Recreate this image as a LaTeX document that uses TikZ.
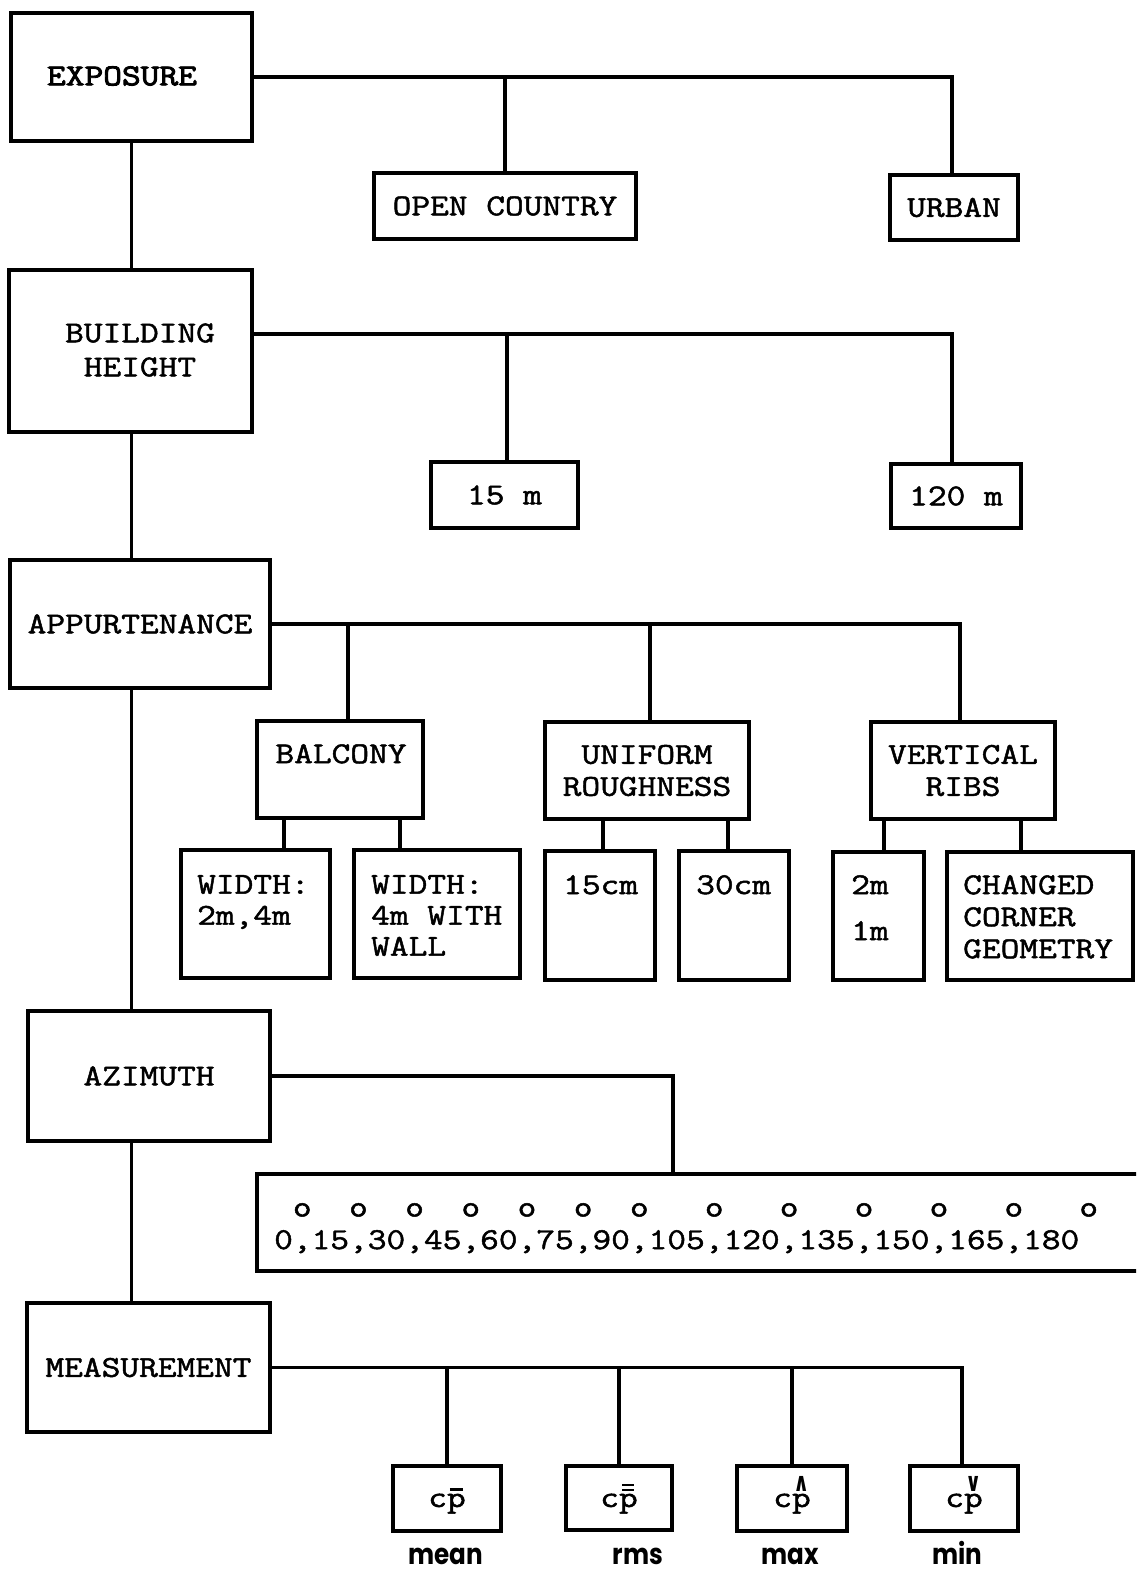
\documentclass[tikz,border=0pt]{standalone}
\usepackage{fix-cm}
\usepackage{fontspec}
\setmainfont{Latin Modern Mono}[FakeStretch=1.2, FakeBold=1.6]
\newfontfamily\heavyfont{Latin Modern Mono}[FakeStretch=1.2, FakeBold=3]
\newfontfamily\lblfont{Poppins}[FakeStretch=0.85]
\newfontfamily\symfont{DejaVu Sans}[FakeStretch=0.75]
\newcommand\fsz{\fontsize{30.3}{32}\selectfont}
\newcommand\gp{\hphantom{0}}
\newsavebox\accbox
\newcommand\acc[2]{\sbox\accbox{#2}\hbox{\vbox{\offinterlineskip\hbox to\wd\accbox{\hss#1\hss}\kern2.5pt\copy\accbox}}}
\newcommand\barmk{\vrule width 13pt height 3pt depth 0pt}
\newcommand\dbarmk{\vbox{\hrule width 12pt height 2.6pt\kern2.4pt\hrule width 12pt height 2.6pt}}
\newcommand\hatmk{{\symfont\bfseries\fontsize{26}{26}\selectfont ∧}}
\newcommand\chkmk{{\symfont\bfseries\fontsize{26}{26}\selectfont ∨}}
\tikzset{
  box/.style={draw, line width=3.2pt, inner sep=0pt, outer sep=0pt},
  conn/.style={line width=3.2pt},
  hd/.style={font=\fsz, align=center, inner sep=0pt},
  tx/.style={font=\fsz, align=center, inner sep=0pt},
  cp/.style={font=\fsz, inner sep=0pt},
  txl/.style={font=\fsz, align=left, inner sep=0pt, anchor=north west},
  lbl/.style={font=\lblfont\bfseries\fontsize{29}{29}\selectfont, inner sep=0pt, anchor=base},
}
\begin{document}
\begin{tikzpicture}[x=1pt,y=-1pt]
\clip (0,0) rectangle (1136,1574);
% main column
\node[box, minimum width=241pt, minimum height=128pt] (expo) at (131.5,77) {};
\node[hd, font=\heavyfont\fsz] (expoT) at (122,76) {EXPOSURE};
\node[box, minimum width=243pt, minimum height=162pt] (bh) at (130.5,351) {};
\node[hd, font=\fontsize{30.3}{34}\selectfont] (bhT) at (140,350) {BUILDING\\HEIGHT};
\node[box, hd, minimum width=260pt, minimum height=128pt] (app) at (140,624) {APPURTENANCE};
\node[box, hd, minimum width=242pt, minimum height=130pt] (azi) at (149,1076) {AZIMUTH};
\node[box, hd, minimum width=243pt, minimum height=129pt] (meas) at (148.5,1367.5) {MEASUREMENT};
\coordinate (sp) at (expo.south);
\draw[conn] (expo.south) -- (sp |- bh.north);
\draw[conn] (sp |- bh.south) -- (sp |- app.north);
\draw[conn] (sp |- app.south) -- (sp |- azi.north);
\draw[conn] (sp |- azi.south) -- (sp |- meas.north);
% exposure
\node[box, tx, minimum width=262pt, minimum height=66pt] (oc) at (505,206) {OPEN COUNTRY};
\node[box, tx, minimum width=128pt, minimum height=65pt] (urban) at (954,207.5) {URBAN};
\draw[conn] (expo.east) -| ([xshift=-2pt]urban.north);
\draw[conn] (oc.north) -- (oc.north |- expo.east);
% building height
\node[box, tx, minimum width=147pt, minimum height=66pt] (m15) at (504.5,495) {15 m};
\node[box, tx, minimum width=130pt, minimum height=64pt] (m120) at (956,496) {120 m};
\coordinate (bhj) at ([yshift=17pt]bh.east);
\coordinate (m15t) at ([xshift=2.5pt]m15.north);
\draw[conn] (bhj) -| ([xshift=-4pt]m120.north);
\draw[conn] (m15t) -- (m15t |- bhj);
% appurtenance
\node[box, minimum width=166pt, minimum height=97pt] (bal) at (340,769.5) {};
\node[tx, anchor=north] (balT) at (341,744) {BALCONY};
\node[box, tx, minimum width=204pt, minimum height=97pt] (uni) at (647,770.5) {UNIFORM\\ROUGHNESS};
\node[box, tx, minimum width=184pt, minimum height=97pt] (rib) at (963,770.5) {VERTICAL\\RIBS};
\coordinate (balt) at ([xshift=8pt]bal.north);
\coordinate (unit) at ([xshift=3pt]uni.north);
\draw[conn] (app.east) -| ([xshift=-3pt]rib.north);
\draw[conn] (balt) -- (balt |- app.east);
\draw[conn] (unit) -- (unit |- app.east);
% children of appurtenance
\node[box, minimum width=149pt, minimum height=128pt] (w1) at (255.5,914) {};
\node[txl, font=\fontsize{30.3}{31}\selectfont] (w1T) at (197,875) {WIDTH:\\2m,4m};
\node[box, minimum width=166pt, minimum height=128pt] (w2) at (437,914) {};
\node[txl, font=\fontsize{30.3}{31}\selectfont] (w2T) at (371,875) {WIDTH:\\4m WITH\\WALL};
\node[box, minimum width=110pt, minimum height=129pt] (c15) at (600,915.5) {};
\node[txl] (c15T) at (563,875) {15cm};
\node[box, minimum width=110pt, minimum height=129pt] (c30) at (734,915.5) {};
\node[txl] (c30T) at (696,875) {30cm};
\node[box, minimum width=91pt, minimum height=128pt] (r21) at (878.5,916) {};
\node[txl, font=\fontsize{30.3}{46}\selectfont] (r21T) at (851,875) {2m\\1m};
\node[box, minimum width=186pt, minimum height=128pt] (ccg) at (1040,916) {};
\node[txl] (ccgT) at (963,875) {CHANGED\\CORNER\\GEOMETRY};
\coordinate (w1t) at ([xshift=28.5pt]w1.north);
\coordinate (w2t) at ([xshift=-37pt]w2.north);
\coordinate (c15t) at ([xshift=3pt]c15.north);
\coordinate (c30t) at ([xshift=-6pt]c30.north);
\coordinate (r21t) at ([xshift=5.5pt]r21.north);
\coordinate (ccgt) at ([xshift=-19pt]ccg.north);
\draw[conn] (w1t) -- (w1t |- bal.south);
\draw[conn] (w2t) -- (w2t |- bal.south);
\draw[conn] (c15t) -- (c15t |- uni.south);
\draw[conn] (c30t) -- (c30t |- uni.south);
\draw[conn] (r21t) -- (r21t |- rib.south);
\draw[conn] (ccgt) -- (ccgt |- rib.south);
% azimuth
\node[box, minimum width=893pt, minimum height=97pt] (azv) at (703.5,1222.5) {};
\node[tx, anchor=base west] (azdeg) at (274,1216.5) {\gp o\gp\gp o\gp\gp o\gp\gp o\gp\gp o\gp\gp o\gp\gp o\gp\gp\gp o\gp\gp\gp o\gp\gp\gp o\gp\gp\gp o\gp\gp\gp o\gp\gp\gp o};
\node[tx, anchor=base west] (azval) at (274,1249) {0,15,30,45,60,75,90,105,120,135,150,165,180};
\draw[conn] (azi.east) -| ([xshift=-30.5pt]azv.north);
% measurement
\node[box, minimum width=108pt, minimum height=65pt] (cmean) at (447,1498.5) {};
\node[box, minimum width=106pt, minimum height=64pt] (crms) at (619,1498) {};
\node[box, minimum width=110pt, minimum height=65pt] (cmax) at (792,1498.5) {};
\node[box, minimum width=108pt, minimum height=65pt] (cmin) at (964,1498.5) {};
\node[cp, anchor=base] (cmeanT) at (447,1507) {c\acc{\barmk}{p}};
\node[cp, anchor=base] (crmsT) at (619,1507) {c\acc{\dbarmk}{p}};
\node[cp, anchor=base] (cmaxT) at (792,1507) {c\acc{\hatmk}{p}};
\node[cp, anchor=base] (cminT) at (964,1507) {c\acc{\chkmk}{p}};
\draw[conn] (meas.east) -| ([xshift=-2pt]cmin.north);
\draw[conn] (cmean.north) -- (cmean.north |- meas.east);
\draw[conn] (crms.north) -- (crms.north |- meas.east);
\draw[conn] (cmax.north) -- (cmax.north |- meas.east);
\node[lbl] (lmean) at (446,1564) {mean};
\node[lbl] (lrms) at (638,1564) {rms};
\node[lbl] (lmax) at (790,1564) {max};
\node[lbl] (lmin) at (957,1564) {min};
\end{tikzpicture}
\end{document}
